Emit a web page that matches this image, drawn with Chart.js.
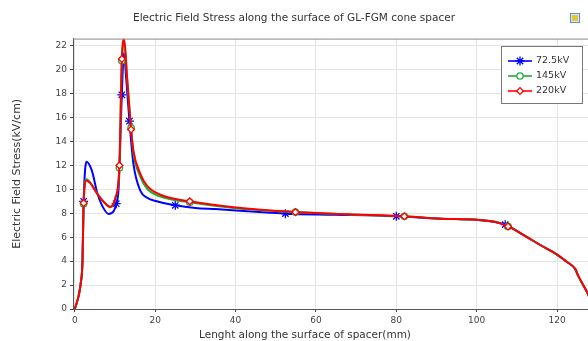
<!DOCTYPE html>
<html>
<head>
<meta charset="utf-8">
<script src="https://cdn.jsdelivr.net/npm/chart.js@4.4.1/dist/chart.umd.min.js"></script>
<style>
  html, body { margin: 0; padding: 0; background: #fff; }
  canvas { display: block; }
</style>
</head>
<body>
<canvas id="fieldChart" width="588" height="341"></canvas>
<script>
// ---- data ----
const xTicks = [0, 20, 40, 60, 80, 100, 120];
const yTicks = [0, 2, 4, 6, 8, 10, 12, 14, 16, 18, 20, 22];
const seriesNames = ['72.5kV', '145kV', '220kV'];

const blueX = [0, 0.95, 1.5, 1.9, 2.2, 2.9, 4.3, 5.5, 6.7, 8.4, 9.7, 10.3, 10.9, 11.7, 12.2, 12.8, 13.6, 14.6, 16.3, 18, 20.4, 25, 30, 35, 45, 52.4, 65, 80, 91, 100, 107.1, 111.6, 115.8, 120, 122.4, 124.5, 125.3, 127.4, 128.5];
const blueY = [0, 1.1, 2.2, 3.9, 9.0, 12.3, 11.5, 9.8, 8.7, 7.95, 8.2, 8.8, 10.1, 17.9, 21.4, 19.2, 15.7, 12.1, 9.9, 9.3, 9.0, 8.67, 8.45, 8.35, 8.12, 7.97, 7.88, 7.75, 7.55, 7.45, 7.05, 6.2, 5.35, 4.55, 3.95, 3.35, 2.75, 1.45, 0.6];
const blueMarks = [2.2, 10.3, 11.7, 13.6, 25, 52.4, 80, 107.1];

const redX = [0, 0.95, 1.5, 1.9, 2.2, 2.9, 3.9, 5.5, 7.2, 8.8, 10.1, 11.1, 11.7, 12.3, 13.0, 14.0, 14.6, 16.3, 18, 21.3, 28.6, 39.5, 54.9, 68, 82, 91, 100, 105, 107.8, 111.6, 115.8, 120, 122.4, 124.5, 125.3, 127.4, 128.5];
const greenY = [0, 1.1, 2.2, 3.9, 8.8, 10.85, 10.55, 9.7, 8.95, 8.5, 9.25, 11.8, 20.75, 22.3, 19.3, 15.15, 13.0, 11.05, 10.05, 9.4, 8.92, 8.45, 8.1, 7.9, 7.75, 7.55, 7.45, 7.25, 6.9, 6.2, 5.35, 4.55, 3.95, 3.35, 2.75, 1.45, 0.6];
const redY = [0, 1.1, 2.2, 3.9, 8.85, 10.75, 10.5, 9.65, 8.95, 8.55, 9.3, 12.0, 20.9, 22.55, 19.4, 15.0, 13.2, 11.3, 10.3, 9.55, 9.0, 8.5, 8.1, 7.92, 7.75, 7.55, 7.45, 7.25, 6.9, 6.2, 5.35, 4.55, 3.95, 3.35, 2.75, 1.45, 0.6];
const redMarks = [2.2, 11.1, 11.7, 14.0, 28.6, 54.9, 82, 107.8];

const FONT = 'DejaVu Sans';
const pts = (xs, ys) => xs.map((x, i) => ({ x: x, y: ys[i] }));
const markR = (marks, r) => c => (c.raw && marks.includes(c.raw.x)) ? r : 0;

function series(label, xs, ys, marks, color, style, r, order) {
  return {
    label: label, data: pts(xs, ys), order: order,
    borderColor: color, borderWidth: 2,
    cubicInterpolationMode: 'monotone',
    pointStyle: style, pointRadius: markR(marks, r), legendRadius: r,
    pointBorderColor: color, pointBackgroundColor: '#fff', pointBorderWidth: 1.3
  };
}

const datasets = [
  series(seriesNames[0], blueX, blueY, blueMarks, '#0000ff', 'star', 4.5, 2),
  series(seriesNames[1], redX, greenY, redMarks, '#1fae3a', 'circle', 3.2, 1),
  series(seriesNames[2], redX, redY, redMarks, '#ff0000', 'rectRot', 3.4, 0)
];

// frame top line, legend box, x title, little icon
const extras = {
  id: 'extras',
  afterDraw(chart) {
    const ctx = chart.ctx, a = chart.chartArea;
    ctx.save();
    ctx.strokeStyle = '#8a8a8a'; ctx.lineWidth = 1;
    ctx.beginPath(); ctx.moveTo(a.left, a.top + 0.5); ctx.lineTo(a.right, a.top + 0.5); ctx.stroke();

    // legend
    ctx.fillStyle = '#fff';
    ctx.fillRect(501.5, 46.5, 81, 57);
    ctx.strokeStyle = '#777';
    ctx.strokeRect(501.5, 46.5, 81, 57);
    ctx.font = '9.5px ' + FONT; ctx.textBaseline = 'middle'; ctx.textAlign = 'left';
    const rows = [61, 76, 91];
    chart.data.datasets.forEach((ds, i) => {
      const y = rows[i];
      ctx.strokeStyle = ds.borderColor; ctx.lineWidth = 1.6;
      ctx.beginPath(); ctx.moveTo(508, y); ctx.lineTo(532, y); ctx.stroke();
      ctx.save();
      ctx.fillStyle = '#fff'; ctx.lineWidth = 1.3;
      Chart.helpers.drawPoint(ctx, { pointStyle: ds.pointStyle, radius: ds.legendRadius, rotation: 0, borderWidth: 1.3 }, 520, y);
      ctx.restore();
      ctx.fillStyle = '#333';
      ctx.fillText(ds.label, 536, y);
    });

    // x axis title
    ctx.font = '10.5px ' + FONT;
    ctx.fillStyle = '#333'; ctx.textAlign = 'center'; ctx.textBaseline = 'middle';
    ctx.fillText('Lenght along the surface of spacer(mm)', 305, 335);

    // small export icon in the corner
    ctx.fillStyle = '#d9e8f7'; ctx.fillRect(570, 13, 10, 10);
    ctx.fillStyle = '#e6c62b'; ctx.fillRect(572, 15, 6, 6);
    ctx.strokeStyle = '#5f8fc7'; ctx.lineWidth = 1; ctx.strokeRect(570.5, 13.5, 9, 9);
    ctx.restore();
  }
};

new Chart(document.getElementById('fieldChart'), {
  type: 'line',
  data: { datasets: datasets },
  plugins: [extras],
  options: {
    responsive: false, animation: false, events: [], devicePixelRatio: 1,
    layout: { padding: { left: 0, right: 0, top: 0, bottom: 0 } },
    plugins: {
      legend: { display: false }, tooltip: { enabled: false },
      title: {
        display: true, text: 'Electric Field Stress along the surface of GL-FGM cone spacer',
        color: '#333', font: { family: FONT, size: 10.5, weight: 'normal' },
        padding: { top: 12, bottom: 14 }
      }
    },
    scales: {
      x: {
        type: 'linear', min: -0.45, max: 127.7,
        afterBuildTicks: s => { s.ticks = xTicks.map(v => ({ value: v })); },
        afterFit: s => { s.height = 32; },
        ticks: { color: '#444', font: { family: FONT, size: 9 }, padding: 3, maxRotation: 0 },
        grid: { color: '#e4e4e4', tickColor: '#444', tickLength: 3 },
        border: { color: '#555', width: 1 }
      },
      y: {
        min: 0, max: 22.6,
        afterBuildTicks: s => { s.ticks = yTicks.map(v => ({ value: v })); },
        afterFit: s => { s.width = 73; },
        ticks: { color: '#444', font: { family: FONT, size: 9 }, padding: 3 },
        grid: { color: '#e4e4e4', tickColor: '#444', tickLength: 3 },
        border: { color: '#555', width: 1 },
        title: {
          display: true, text: 'Electric Field Stress(kV/cm)', color: '#333',
          font: { family: FONT, size: 11 }, padding: { top: 11, bottom: 0 }
        }
      }
    }
  }
});
</script>
</body>
</html>
